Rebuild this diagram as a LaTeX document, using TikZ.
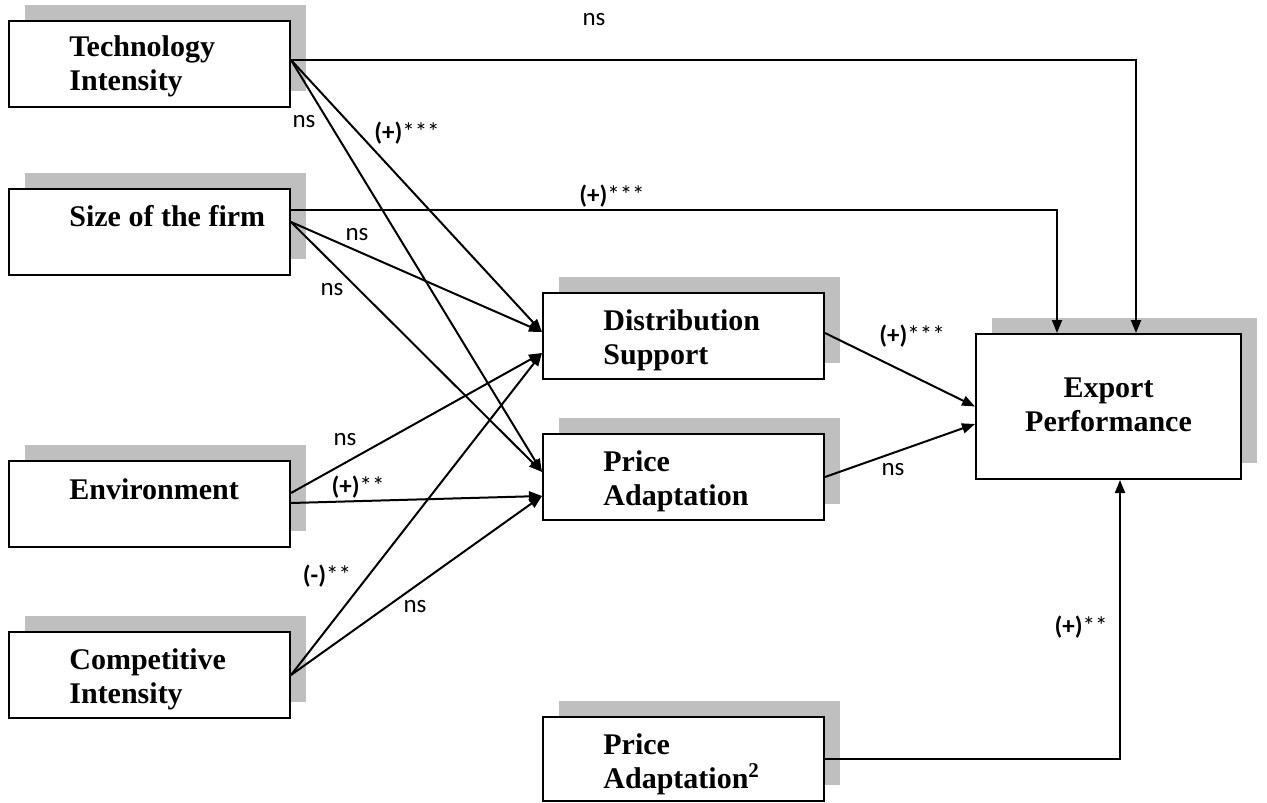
\documentclass[tikz,border=0pt]{standalone}
\usepackage{fontspec}
\setmainfont{Liberation Serif}
\newfontfamily\lblfont{Carlito}
\usetikzlibrary{arrows.meta,shadows}
\begin{document}
\begin{tikzpicture}[x=0.5pt,y=-0.5pt,
  box/.style={draw=black, line width=1pt, fill=white, inner sep=0,
    minimum width=140.5pt, minimum height=43pt,
    general shadow={fill=black!25, draw=none, shadow xshift=8pt, shadow yshift=8pt}},
  boxtext/.style={anchor=base west, inner sep=0, align=left,
    font=\fontsize{15}{17}\selectfont\bfseries},
  lbl/.style={inner sep=0, font=\fontsize{12.5}{14}\selectfont\lblfont},
  conn/.style={line width=1pt, -{Triangle[length=6.5pt,width=5pt]}}]
\useasboundingbox (0,0) rectangle (1267,802);

% boxes
\node[box] (ti) at (149.5,64) {};
\node[box] (sf) at (149.5,232) {};
\node[box] (env) at (149.5,504) {};
\node[box] (ci) at (149.5,675) {};
\node[box] (ds) at (683.5,336) {};
\node[box] (pa) at (683.5,477) {};
\node[box, minimum width=132.5pt, minimum height=72.5pt] (ep) at (1108.5,406.5) {};
\node[box, minimum height=42pt] (pb) at (683.5,759) {};

% box texts (base = baseline of the last line)
\node[boxtext] (tit) at (69,91) {Technology\\Intensity};
\node[boxtext] (sft) at (69,227) {Size of the firm};
\node[boxtext] (envt) at (69,499) {Environment};
\node[boxtext] (cit) at (69,703) {Competitive\\Intensity};
\node[boxtext] (dst) at (603,364) {Distribution\\Support};
\node[boxtext] (pat) at (603,505) {Price\\Adaptation};
\node[boxtext] (pbt) at (603,788) {Price\\Adaptation\textsuperscript{2}};
\node[boxtext, anchor=base, align=center] (ept) at (1108.5,431) {Export\\Performance};

% connectors
\draw[conn] ([yshift=2pt]ti.east) -| ([xshift=13.75pt]ep.north);
\draw[conn] ([yshift=11pt]sf.east) -| ([xshift=-25.75pt]ep.north);
\draw[conn] ([yshift=2pt]ti.east) -- ([yshift=2pt]ds.west);
\draw[conn] ([yshift=2pt]ti.east) -- ([yshift=2.5pt]pa.west);
\draw[conn] ([yshift=5pt]sf.east) -- ([yshift=2pt]ds.west);
\draw[conn] ([yshift=5pt]sf.east) -- ([yshift=2.5pt]pa.west);
\draw[conn] ([yshift=5.5pt]env.east) -- ([yshift=-8.5pt]ds.west);
\draw[conn] ([yshift=0.5pt]env.east) -- ([yshift=-9.5pt]pa.west);
\draw[conn] (ci.east) -- ([yshift=-8.5pt]ds.west);
\draw[conn] (ci.east) -- ([yshift=-9.5pt]pa.west);
\draw[conn] ([yshift=1.5pt]ds.east) -- (ep.west);
\draw[conn] (pa.east) -- ([yshift=-8.75pt]ep.west);
\draw[conn] (pb.east) -| ([xshift=5.75pt]ep.south);

% labels
\node[lbl] (l1) at (594,20) {ns};
\node[lbl] (l2) at (612,196) {\textbf{(+)}***};
\node[lbl] (l3) at (407,133) {\textbf{(+)}***};
\node[lbl] (l4) at (304,122) {ns};
\node[lbl] (l5) at (357,235) {ns};
\node[lbl] (l6) at (332,290) {ns};
\node[lbl] (l7) at (345,440) {ns};
\node[lbl] (l8) at (358,487) {\textbf{(+)}**};
\node[lbl] (l9) at (327,576) {\textbf{(-)}**};
\node[lbl] (l10) at (415,607) {ns};
\node[lbl] (l11) at (912,336) {\textbf{(+)}***};
\node[lbl] (l12) at (893,470) {ns};
\node[lbl] (l13) at (1081,627) {\textbf{(+)}**};
\end{tikzpicture}
\end{document}
